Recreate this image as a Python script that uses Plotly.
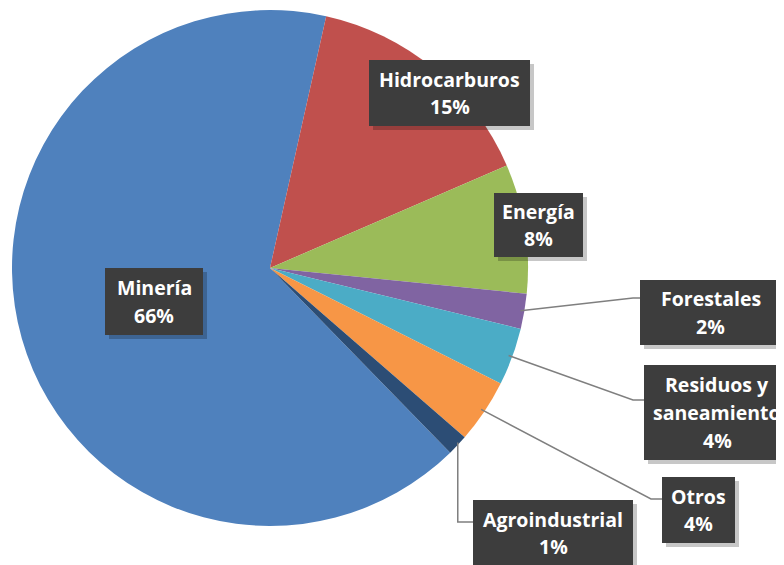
import math
import plotly.graph_objects as go

# ---- data ----
categories = ["Minería", "Hidrocarburos", "Energía", "Forestales",
              "Residuos y<br>saneamiento", "Otros", "Agroindustrial"]
values = [65.8, 15.0, 8.1, 2.2, 3.6, 4.0, 1.3]
colors = ["#4F81BD", "#C0504D", "#9BBB59", "#8064A2", "#4BACC6", "#F79646", "#2C4D75"]

W, H = 784, 565
OFF = 8  # page body margin compensation
CX, CY, R = 270 - OFF, 268 - OFF, 258
ROT = 135.7  # start angle (deg, clockwise from 12 o'clock) of first slice

fig = go.Figure(go.Pie(
    labels=categories, values=values, sort=False, direction="clockwise",
    rotation=ROT, marker=dict(colors=colors, line=dict(width=0)),
    textinfo="none", hoverinfo="label+percent", showlegend=False,
    domain=dict(x=[(CX - R) / W, (CX + R) / W],
                y=[1 - (CY + R) / H, 1 - (CY - R) / H]),
))

def px(x):
    return (x - OFF) / W

def py(y):
    return 1 - (y - OFF) / H

total = sum(values)
mids = []
acc = ROT
for v in values:
    span = v / total * 360
    mids.append(acc + span / 2)
    acc += span

def edge_point(i, frac=0.985):
    a = math.radians(mids[i])
    # in reference-pixel coordinates
    return (CX + OFF) + R * frac * math.sin(a), (CY + OFF) - R * frac * math.cos(a)

# label boxes (reference pixel layout: left, top, right, bottom)
boxes = {
    0: (105, 268, 203, 335),
    1: (369, 60, 530, 126),
    2: (494, 193, 583, 257),
    3: (640, 280, 781, 345),
    4: (644, 365, 792, 460),
    5: (662, 477, 735, 543),
    6: (473, 500, 633, 566),
}

shapes = []
annotations = []

# leader lines for small slices
leaders = {
    3: [(633, 298), (640, 298)],
    4: [(633, 400), (644, 400)],
    5: [(651, 499), (662, 499)],
    6: None,
}
for i, pts in leaders.items():
    sx, sy = edge_point(i)
    if pts is None:
        sx += 3
        pts = [(sx, 522), (473, 522)]
    path = "M {} {}".format(px(sx), py(sy))
    for (x, y) in pts:
        path += " L {} {}".format(px(x), py(y))
    shapes.append(dict(type="path", path=path, xref="paper", yref="paper",
                       line=dict(color="#7F7F7F", width=1.5), layer="above"))

LINE = 27.5
for i, (l, t, r, b) in boxes.items():
    shapes.append(dict(type="rect", xref="paper", yref="paper",
                       x0=px(l + 4), x1=px(r + 4), y0=py(b + 4), y1=py(t + 4),
                       fillcolor="rgba(0,0,0,0.22)", line=dict(width=0), layer="above"))
    shapes.append(dict(type="rect", xref="paper", yref="paper",
                       x0=px(l), x1=px(r), y0=py(b), y1=py(t),
                       fillcolor="#3D3D3D", line=dict(width=0), layer="above"))
    pct = round(values[i] / total * 100)
    lines = categories[i].split("<br>") + ["{}%".format(pct)]
    cx = (l + min(r, 790)) / 2
    cy = (t + b) / 2
    n = len(lines)
    for k, txt in enumerate(lines):
        yk = cy + (k - (n - 1) / 2) * LINE
        annotations.append(dict(
            x=px(cx), y=py(yk), xref="paper", yref="paper",
            text="<b>{}</b>".format(txt), showarrow=False,
            font=dict(family="'Open Sans', sans-serif", size=19.5, color="white"),
            xanchor="center", yanchor="middle", align="center"))

fig.update_layout(
    width=W, height=H, margin=dict(l=0, r=0, t=0, b=0),
    paper_bgcolor="white", plot_bgcolor="white",
    shapes=shapes, annotations=annotations,
)

fig.write_html("out.html")
